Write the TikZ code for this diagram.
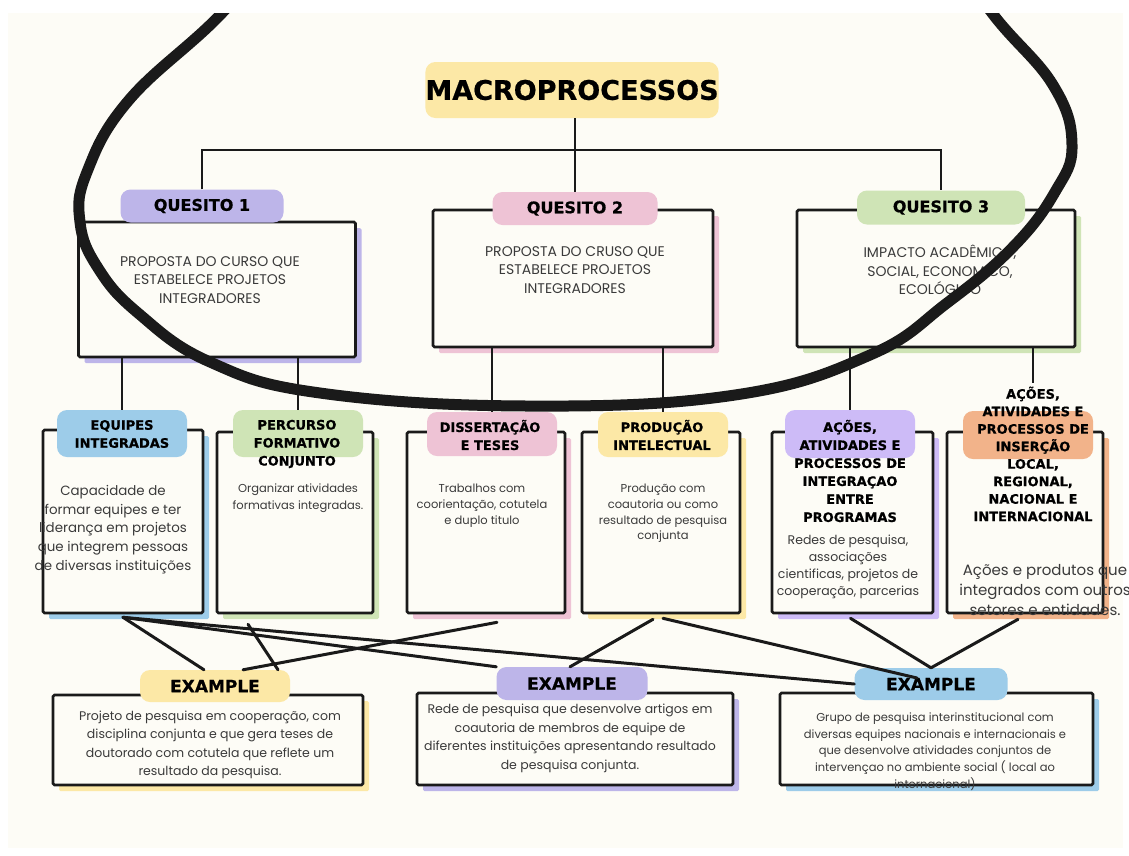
\documentclass[tikz,border=0pt]{standalone}
\usepackage{fontspec}
\setmainfont{Poppins}
\newfontfamily\headfont{DejaVu Sans}[BoldFeatures={FakeBold=0.6}]
\usetikzlibrary{shadows}

\definecolor{paper}{HTML}{FDFCF6}
\definecolor{ink}{HTML}{1A1A1A}
\definecolor{txt}{HTML}{3A3A3A}
\definecolor{cyellow}{HTML}{FCE8A6}
\definecolor{cpurple}{HTML}{BDB5E9}
\definecolor{clav}{HTML}{CDBBF7}
\definecolor{cpink}{HTML}{EEC3D5}
\definecolor{cgreen}{HTML}{CFE4B6}
\definecolor{cblue}{HTML}{9DCCE9}
\definecolor{corange}{HTML}{F2B38A}

\tikzset{
  tree/.style={draw=ink, line width=2.4pt},
  link/.style={draw=ink, line width=3pt, line cap=round},
  sketchbox/.style={draw=ink, line width=2.6pt, fill=paper, rounded corners=1.5pt,
    general shadow={fill=#1, shadow xshift=6pt, shadow yshift=-6pt}},
  pill/.style={fill=#1, rounded corners=10pt, inner sep=0pt},
  head/.style={font=\headfont\bfseries\fontsize{13}{18}\selectfont, align=center, text=black},
  body/.style={font=\fontsize{12.5}{18.5}\selectfont, align=center, text=txt},
  capsbody/.style={font=\fontsize{14}{18.5}\selectfont, align=center, text=txt},
}

\begin{document}
\begin{tikzpicture}[x=1pt,y=-1pt]
  \useasboundingbox (0,0) rectangle (1129,855);
  % page
  \fill[white] (0,0) rectangle (1129,855);
  \fill[paper] (8,13) rectangle (1123,848);

  % title
  \node[pill=cyellow, head, minimum width=250pt, minimum height=56pt,
    font=\headfont\bfseries\fontsize{27}{30}\selectfont] (title) at (572,90) {MACROPROCESSOS};

  % quesitos
  \node[sketchbox=cpurple, minimum width=277pt, minimum height=135pt] (q1box) at (217,289.5) {};
  \node[sketchbox=cpink, minimum width=280pt, minimum height=137pt] (q2box) at (573,278.5) {};
  \node[sketchbox=cgreen, minimum width=278pt, minimum height=137pt] (q3box) at (936,278.5) {};
  \node[pill=cpurple, head, minimum width=163pt, minimum height=33pt,
    font=\headfont\bfseries\fontsize{16}{18}\selectfont] (q1) at (202,206) {QUESITO 1};
  \node[pill=cpink, head, minimum width=165pt, minimum height=33pt,
    font=\headfont\bfseries\fontsize{16}{18}\selectfont] (q2) at (575,208.5) {QUESITO 2};
  \node[pill=cgreen, head, minimum width=168pt, minimum height=34pt,
    font=\headfont\bfseries\fontsize{16}{18}\selectfont] (q3) at (941,207.5) {QUESITO 3};
  \node[capsbody] (q1text) at (210,280) {PROPOSTA DO CURSO QUE\\ESTABELECE PROJETOS\\INTEGRADORES};
  \node[capsbody] (q2text) at (575,270) {PROPOSTA DO CRUSO QUE\\ESTABELECE PROJETOS\\INTEGRADORES};
  \node[capsbody] (q3text) at (940,270) {IMPACTO ACADÊMICO,\\SOCIAL, ECONOMICO,\\ECOLÓGICO};

  % second row
  \node[sketchbox=cblue, minimum width=160pt, minimum height=183pt] (eqbox) at (123,521.5) {};
  \node[sketchbox=cgreen, minimum width=156pt, minimum height=181pt] (pfbox) at (295,522.5) {};
  \node[sketchbox=cpink, minimum width=158pt, minimum height=181pt] (dtbox) at (486,522.5) {};
  \node[sketchbox=cyellow, minimum width=158pt, minimum height=181pt] (pibox) at (661,522.5) {};
  \node[sketchbox=clav, minimum width=161pt, minimum height=181pt] (aibox) at (852.5,522.5) {};
  \node[sketchbox=corange, minimum width=156pt, minimum height=181pt] (oibox) at (1025,522.5) {};

  \node[pill=cblue, minimum width=130pt, minimum height=47pt] (eqpill) at (122,433.5) {};
  \node[pill=cgreen, minimum width=130pt, minimum height=47pt] (pfpill) at (298,433.5) {};
  \node[pill=cpink, minimum width=130pt, minimum height=44pt] (dtpill) at (492,434) {};
  \node[pill=cyellow, minimum width=130pt, minimum height=45pt] (pipill) at (663,434.5) {};
  \node[pill=clav, minimum width=130pt, minimum height=48pt] (aipill) at (850,434) {};
  \node[pill=corange, minimum width=130pt, minimum height=48pt] (oipill) at (1028,435) {};

  \node[head] (eqhead) at (122,434) {EQUIPES\\INTEGRADAS};
  \node[head] (pfhead) at (297,444) {PERCURSO\\FORMATIVO\\CONJUNTO};
  \node[head] (dthead) at (490,435) {DISSERTAÇÃO\\E TESES};
  \node[head] (pihead) at (662,435) {PRODUÇÃO\\INTELECTUAL};
  \node[head] (aihead) at (850,471) {AÇÕES,\\ATIVIDADES E\\PROCESSOS DE\\INTEGRAÇAO\\ENTRE\\PROGRAMAS};
  \node[head, font=\headfont\bfseries\fontsize{13}{17.5}\selectfont] (oihead) at (1033,454)
    {AÇÕES,\\ATIVIDADES E\\PROCESSOS DE\\INSERÇÃO\\LOCAL,\\REGIONAL,\\NACIONAL E\\INTERNACIONAL};

  \node[body, font=\fontsize{13.4}{18.7}\selectfont] (eqtext) at (113,529.5)
    {Capacidade de\\formar equipes e ter\\liderança em projetos\\que integrem pessoas\\de diversas instituições};
  \node[body, font=\fontsize{11.5}{17}\selectfont] (pftext) at (298,498.5)
    {Organizar atividades\\formativas integradas.};
  \node[body, font=\fontsize{11.5}{16}\selectfont] (dttext) at (482,506)
    {Trabalhos com\\coorientação, cotutela\\e duplo titulo};
  \node[body, font=\fontsize{11.5}{15.7}\selectfont] (pitext) at (663,513.5)
    {Produção com\\coautoria ou como\\resultado de pesquisa\\conjunta};
  \node[body, font=\fontsize{12.5}{16.8}\selectfont] (aitext) at (848,567)
    {Redes de pesquisa,\\associações\\cientificas, projetos de\\cooperação, parcerias};
  \node[body, font=\fontsize{15}{20}\selectfont] (oitext) at (1045,590)
    {Ações e produtos que\\integrados com outros\\setores e entidades.};

  % examples
  \node[sketchbox=cyellow, minimum width=310pt, minimum height=90pt] (e1box) at (208,740) {};
  \node[sketchbox=cpurple, minimum width=316pt, minimum height=92pt] (e2box) at (575,739) {};
  \node[sketchbox=cblue, minimum width=313pt, minimum height=92pt] (e3box) at (936.5,739) {};
  \node[pill=cyellow, head, minimum width=150pt, minimum height=32pt,
    font=\headfont\bfseries\fontsize{17}{18}\selectfont] (e1) at (215,686) {EXAMPLE};
  \node[pill=cpurple, head, minimum width=151pt, minimum height=33pt,
    font=\headfont\bfseries\fontsize{17}{18}\selectfont] (e2) at (572,683.5) {EXAMPLE};
  \node[pill=cblue, head, minimum width=153pt, minimum height=32pt,
    font=\headfont\bfseries\fontsize{17}{18}\selectfont] (e3) at (931,684) {EXAMPLE};
  \node[body] (e1text) at (210,745)
    {Projeto de pesquisa em cooperação, com\\disciplina conjunta e que gera teses de\\doutorado com cotutela que reflete um\\resultado da pesquisa.};
  \node[body] (e2text) at (570,738.5)
    {Rede de pesquisa que desenvolve artigos em\\coautoria de membros de equipe de\\diferentes instituições apresentando resultado\\de pesquisa conjunta.};
  \node[body, font=\fontsize{11.5}{16.7}\selectfont] (e3text) at (935,751.5)
    {Grupo de pesquisa interinstitucional com\\diversas equipes nacionais e internacionais e\\que desenvolve atividades conjuntos de\\intervençao no ambiente social ( local ao\\internacional)};

  % tree connectors
  \coordinate (bus) at (575,150);
  \draw[tree] (q2.north |- title.south) -- (q2.north);
  \draw[tree] (q1.north) -- (q1.north |- bus) -- (q3.north |- bus) -- (q3.north);
  \draw[tree] (q1box.south -| eqpill.north) -- (eqpill.north);
  \draw[tree] (q1box.south -| pfpill.north) -- (pfpill.north);
  \draw[tree] (q2box.south -| dtpill.north) -- (dtpill.north);
  \draw[tree] (q2box.south -| pipill.north) -- (pipill.north);
  \draw[tree] (q3box.south -| aipill.north) -- (aipill.north);
  \draw[tree] (q3box.south -| oihead.north) -- (oihead.north);

  % example connectors
  \coordinate (eqfoot) at ([yshift=-3pt]eqbox.south);
  \coordinate (pffoot) at ([xshift=-47pt,yshift=-10pt]pfbox.south);
  \coordinate (dtfoot) at ([xshift=11pt,yshift=-8pt]dtbox.south);
  \coordinate (pifootl) at ([xshift=-8pt,yshift=-5pt]pibox.south);
  \coordinate (pifootr) at ([xshift=2pt,yshift=-4pt]pibox.south);
  \coordinate (aifoot) at ([xshift=-2pt,yshift=-4pt]aibox.south);
  \coordinate (oifoot) at ([xshift=-7pt,yshift=-5pt]oibox.south);
  \draw[link] (eqfoot) -- ([xshift=-11pt]e1.north);
  \draw[link] (eqfoot) -- (e2.north west);
  \draw[link] (eqfoot) -- (e3.west);
  \draw[link] (pffoot) -- ([xshift=63pt]e1.north);
  \draw[link] (dtfoot) -- ([xshift=28pt]e1.north);
  \draw[link] (pifootl) -- ([xshift=-2pt]e2.north);
  \draw[link] (pifootr) -- ([xshift=-14pt,yshift=6pt]e3.center);
  \draw[link] (aifoot) -- (e3.north);
  \draw[link] (oifoot) -- (e3.north);

  % loop round the quesitos
  \begin{scope}
    \clip (8,13) rectangle (1123,848);
    \draw[ink, line width=11pt] plot[smooth, tension=0.7] coordinates {
      (290,-70) (222,13) (129,100) (87,172) (80,222) (98,268) (138,313)
      (210,362) (320,393) (527,406) (735,395) (870,355) (947,303)
      (1013,247) (1055,192) (1072,145) (1053,85) (992,13) (935,-70)};
  \end{scope}
\end{tikzpicture}
\end{document}
